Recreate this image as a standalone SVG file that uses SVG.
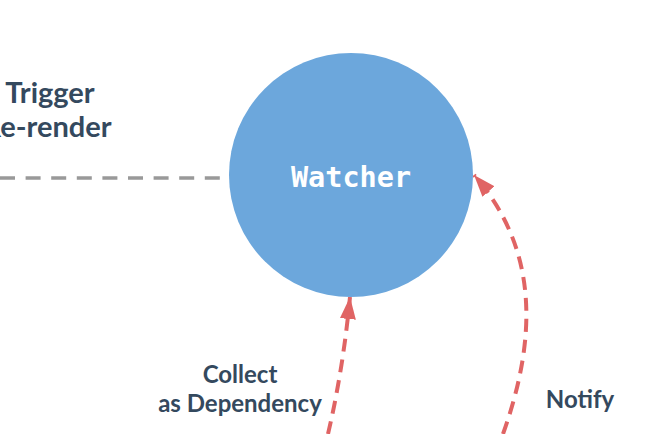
<svg xmlns="http://www.w3.org/2000/svg" width="649" height="434" viewBox="0 0 649 434">
<style>
.lbl{font-family:"Source Sans Pro","Lato","Noto Sans",sans-serif;font-weight:bold;fill:#34495e;text-anchor:middle}
.red{fill:none;stroke:#e06464;stroke-width:4;stroke-dasharray:13 8}
.gray{fill:none;stroke:#999;stroke-width:3.5;stroke-dasharray:15 10.6}
</style>
<defs>
<marker id="ah" markerUnits="userSpaceOnUse" markerWidth="24" markerHeight="18" refX="22" refY="8" orient="auto">
<path d="M0,0 L22,8 L0,16 Z" fill="#e06464"/>
</marker>
</defs>
<rect width="649" height="434" fill="#fff"/>
<g id="connectors">
<path class="gray" d="M0,178 L221,178"/>
<path class="red" d="M328,434 Q343,370 350,297" marker-end="url(#ah)"/>
<path class="red" d="M503,434 C540,330 535,245 474,175" marker-end="url(#ah)"/>
</g>
<g id="watcher">
<circle cx="351" cy="175" r="122" fill="#6ca7dc"/>
<text x="351" y="187" font-family="DejaVu Sans Mono,monospace" font-weight="bold" font-size="28.5" fill="#fff" text-anchor="middle">Watcher</text>
</g>
<g id="labels">
<text class="lbl" x="50" y="103" font-size="29">Trigger</text>
<text class="lbl" x="47" y="137" font-size="29">Re-render</text>
<text class="lbl" x="240" y="383" font-size="24">Collect</text>
<text class="lbl" x="240" y="412" font-size="24">as Dependency</text>
<text class="lbl" x="580" y="408" font-size="24">Notify</text>
</g>
</svg>
